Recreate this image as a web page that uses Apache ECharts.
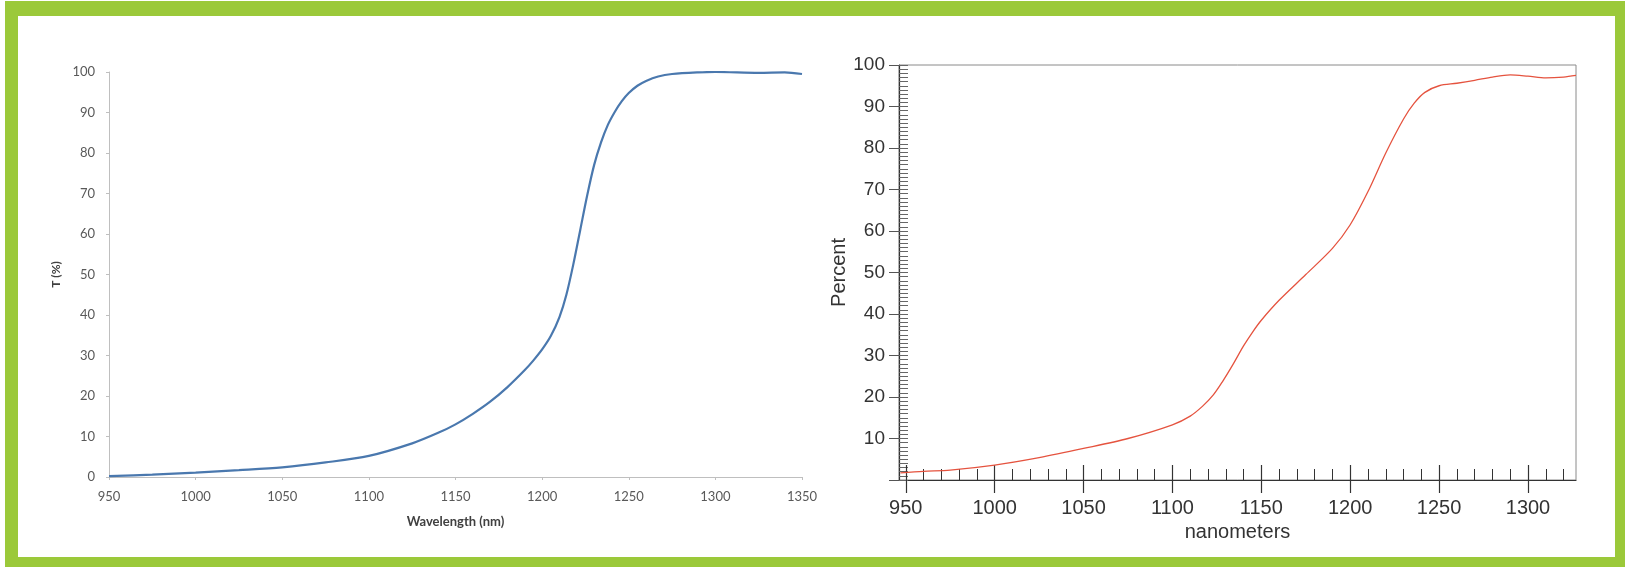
<!DOCTYPE html>
<html>
<head>
<meta charset="utf-8">
<script src="https://cdn.jsdelivr.net/npm/echarts@6/dist/echarts.min.js"></script>
<style>
  html, body { margin: 0; padding: 0; background: #ffffff; }
  #frame { position: absolute; left: 5px; top: 1px; width: 1620px; height: 566px; background: #9BC93A; }
  #inner { position: absolute; left: 18px; top: 16px; width: 1597px; height: 541px; background: #ffffff; }
  #chart { position: absolute; left: 0; top: 0; width: 1625px; height: 567px; }
</style>
</head>
<body>
<div id="frame"></div>
<div id="inner"></div>
<div id="chart"></div>
<script>
// ---- Left chart data: Wavelength (nm) vs T (%) ----
const leftWavelength = [950, 975, 1000, 1025, 1050, 1075, 1100, 1125, 1140, 1150, 1160, 1170, 1180, 1190, 1195, 1200, 1205, 1210, 1214, 1218, 1222, 1226, 1230, 1234, 1238, 1242, 1246, 1250, 1255, 1260, 1267, 1275, 1290, 1300, 1325, 1340, 1350];
const leftTransmission = [0.2, 0.6, 1.1, 1.7, 2.4, 3.6, 5.2, 8.3, 10.9, 13.0, 15.6, 18.6, 22.2, 26.4, 28.8, 31.5, 34.8, 39.5, 45.0, 52.5, 61.0, 69.5, 77.0, 82.6, 87.0, 90.2, 92.8, 94.8, 96.6, 97.8, 98.9, 99.5, 99.9, 100.0, 99.8, 99.9, 99.5];

// ---- Right chart data: nanometers vs Percent ----
const rightWavelength = [947, 960, 975, 1000, 1025, 1050, 1075, 1100, 1110, 1117, 1123, 1128, 1134, 1140, 1145, 1150, 1160, 1175, 1190, 1200, 1210, 1220, 1230, 1236, 1242, 1250, 1260, 1270, 1280, 1290, 1300, 1310, 1320, 1327];
const rightPercent = [1.7, 2.1, 2.4, 3.6, 5.4, 7.6, 10.0, 13.3, 15.4, 17.8, 20.5, 23.6, 27.8, 32.3, 35.6, 38.5, 43.3, 49.5, 55.8, 61.5, 69.5, 78.8, 87.0, 90.8, 93.4, 95.0, 95.6, 96.3, 97.1, 97.6, 97.3, 96.9, 97.1, 97.5];

// ---- Tick labels ----
const leftXTicks = [950, 1000, 1050, 1100, 1150, 1200, 1250, 1300, 1350];
const rightXTicks = [950, 1000, 1050, 1100, 1150, 1200, 1250, 1300];
const rightXMinorTicks = [];
for (let v = 950; v <= 1320; v += 10) rightXMinorTicks.push(v);
const rightYMinorTicks = [];
for (let v = 0; v <= 100; v += 1) rightYMinorTicks.push(v);

const leftData = leftWavelength.map((x, i) => [x, leftTransmission[i]]);
const rightData = rightWavelength.map((x, i) => [x, rightPercent[i]]);

const RX_MIN = 946.2, RX_MAX = 1327;
const leftFont = 'Lato, "Open Sans", sans-serif';
const rightFont = '"Liberation Sans", Arial, sans-serif';
const greyAxis = '#bfbfbf';
const plain = v => String(v);

const chart = echarts.init(document.getElementById('chart'), null, { renderer: 'canvas' });
chart.setOption({
  animation: false,
  grid: [
    { left: 109, right: 823, top: 72, bottom: 90, containLabel: false },
    { left: 899, right: 49, top: 65, bottom: 87, containLabel: false,
      show: true, borderColor: '#8a8a8a', borderWidth: 1, backgroundColor: 'transparent' }
  ],
  xAxis: [
    { // left
      type: 'value', gridIndex: 0, position: 'bottom', min: 950, max: 1350, interval: 50,
      name: 'Wavelength (nm)', nameLocation: 'middle', nameGap: 38,
      nameTextStyle: { fontFamily: leftFont, fontSize: 13, fontWeight: 'bold', color: '#404040' },
      axisLine: { show: true, onZero: false, lineStyle: { color: greyAxis, width: 1 } },
      axisTick: { show: true, inside: false, length: 3, lineStyle: { color: greyAxis } },
      axisLabel: { fontFamily: leftFont, fontSize: 13, color: '#595959', margin: 13, formatter: plain },
      splitLine: { show: false }
    },
    { // right main: labels + outside major ticks
      type: 'value', gridIndex: 1, position: 'bottom', offset: 0, min: RX_MIN, max: RX_MAX,
      name: 'nanometers', nameLocation: 'middle', nameGap: 42,
      nameTextStyle: { fontFamily: rightFont, fontSize: 20, color: '#333333' },
      axisLine: { show: true, onZero: false, lineStyle: { color: '#333333', width: 1.2 } },
      axisTick: { show: true, inside: false, length: 13, customValues: rightXTicks, lineStyle: { color: '#333333', width: 1.2 } },
      axisLabel: { customValues: rightXTicks, fontFamily: rightFont, fontSize: 20, color: '#333333', margin: 18, formatter: plain },
      splitLine: { show: false }
    },
    { // right inside minor ticks every 10
      type: 'value', gridIndex: 1, position: 'bottom', offset: 0, min: RX_MIN, max: RX_MAX,
      axisLine: { show: false, onZero: false },
      axisTick: { show: true, inside: true, length: 11, customValues: rightXMinorTicks, lineStyle: { color: '#333333', width: 1 } },
      axisLabel: { show: false },
      splitLine: { show: false }
    },
    { // right inside major ticks
      type: 'value', gridIndex: 1, position: 'bottom', offset: 0, min: RX_MIN, max: RX_MAX,
      axisLine: { show: false, onZero: false },
      axisTick: { show: true, inside: true, length: 15, customValues: rightXTicks, lineStyle: { color: '#333333', width: 1.2 } },
      axisLabel: { show: false },
      splitLine: { show: false }
    }
  ],
  yAxis: [
    { // left
      type: 'value', gridIndex: 0, position: 'left', min: 0, max: 100, interval: 10,
      name: 'T (%)', nameLocation: 'middle', nameGap: 47, nameRotate: 90,
      nameTextStyle: { fontFamily: leftFont, fontSize: 12, fontWeight: 'bold', color: '#404040' },
      axisLine: { show: true, onZero: false, lineStyle: { color: greyAxis, width: 1 } },
      axisTick: { show: true, inside: false, length: 3, lineStyle: { color: greyAxis } },
      axisLabel: { fontFamily: leftFont, fontSize: 13, color: '#595959', margin: 14 },
      splitLine: { show: false }
    },
    { // right main
      type: 'value', gridIndex: 1, position: 'left', offset: 0, min: 0, max: 100, interval: 10,
      name: 'Percent', nameLocation: 'middle', nameGap: 50, nameRotate: 90,
      nameTextStyle: { fontFamily: rightFont, fontSize: 20, color: '#333333' },
      axisLine: { show: true, onZero: false, lineStyle: { color: '#333333', width: 1.2 } },
      axisTick: { show: true, inside: false, length: 10, lineStyle: { color: '#555555', width: 1 } },
      axisLabel: { fontFamily: rightFont, fontSize: 19, color: '#333333', margin: 14,
                   formatter: v => (v === 0 ? '' : String(v)) },
      splitLine: { show: false }
    },
    { // right inside minor ticks every 1
      type: 'value', gridIndex: 1, position: 'left', offset: 0, min: 0, max: 100,
      axisLine: { show: false, onZero: false },
      axisTick: { show: true, inside: true, length: 9, customValues: rightYMinorTicks, lineStyle: { color: '#666666', width: 1 } },
      axisLabel: { show: false },
      splitLine: { show: false }
    }
  ],
  series: [
    {
      type: 'line', xAxisIndex: 0, yAxisIndex: 0, data: leftData,
      smooth: 0.3, showSymbol: false,
      lineStyle: { color: '#4A78AE', width: 2.2 }
    },
    {
      type: 'line', xAxisIndex: 1, yAxisIndex: 1, data: rightData,
      smooth: 0.3, showSymbol: false, clip: true,
      lineStyle: { color: '#E5533F', width: 1.3 }
    }
  ]
});
</script>
</body>
</html>
